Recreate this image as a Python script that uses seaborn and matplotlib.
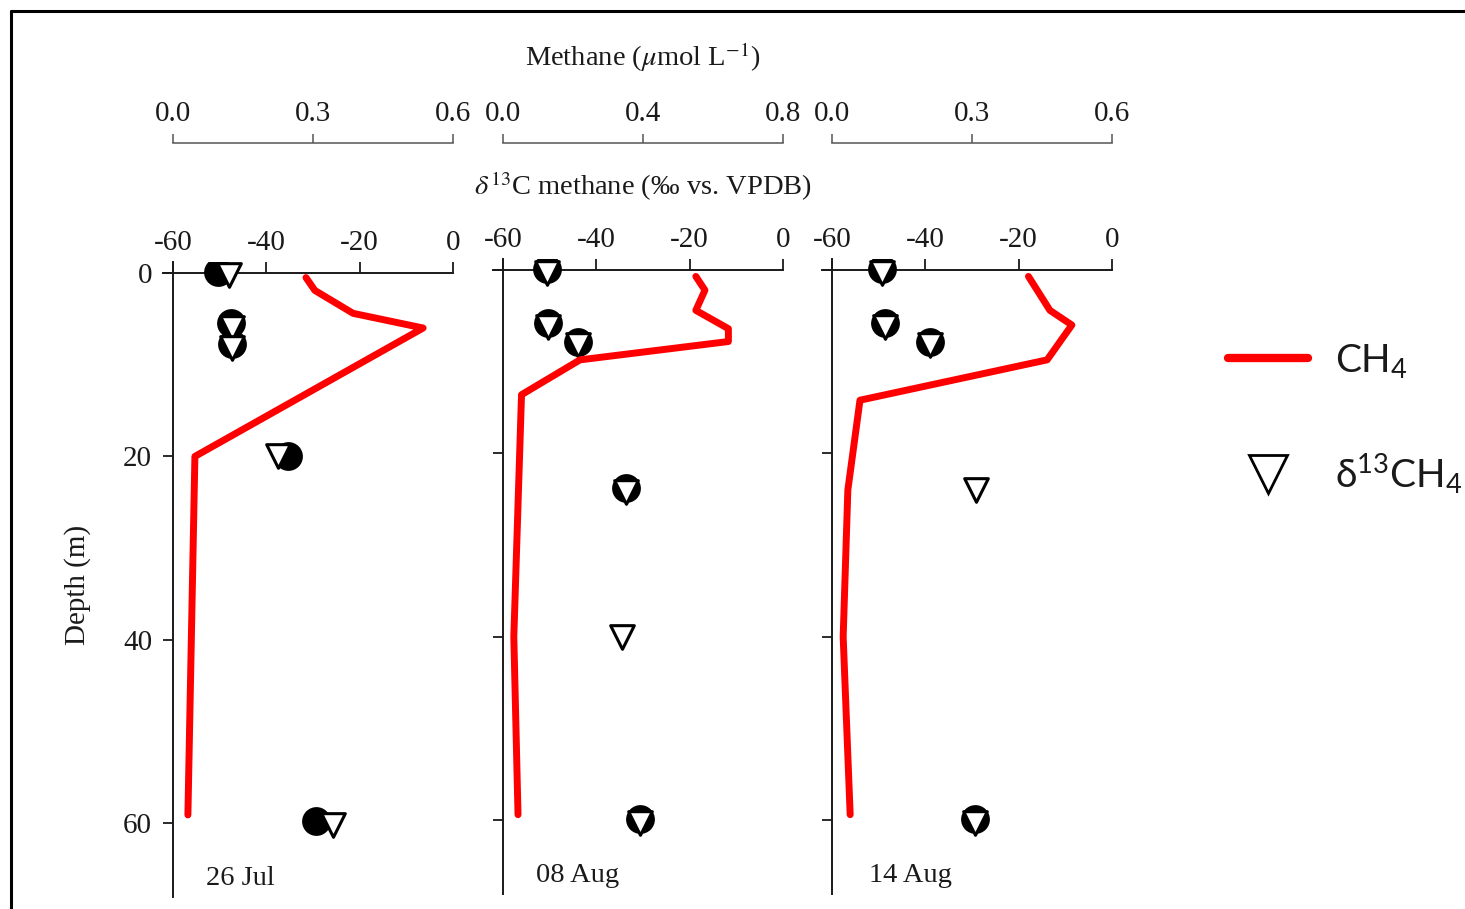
import matplotlib
matplotlib.use("Agg")
import matplotlib.pyplot as plt
from matplotlib.lines import Line2D
import seaborn as sns

# ---- data -------------------------------------------------------------
dates = ["26 Jul", "08 Aug", "14 Aug"]

d13c_ticks = [-60, -40, -20, 0]
d13c_ticklabels = ["-60", "-40", "-20", "0"]
depth_ticks = [0, 20, 40, 60]
depth_ticklabels = ["0", "20", "40", "60"]

methane_max = [0.6, 0.8, 0.6]
methane_ticks = [[0.0, 0.3, 0.6], [0.0, 0.4, 0.8], [0.0, 0.3, 0.6]]
methane_ticklabels = [["0.0", "0.3", "0.6"], ["0.0", "0.4", "0.8"], ["0.0", "0.3", "0.6"]]

# CH4 concentration profiles (umol/L) against depth (m)
ch4_depth_jul26 = [0.5, 1.9, 4.4, 6.0, 20.0, 59.1]
ch4_conc_jul26 = [0.285, 0.304, 0.386, 0.536, 0.047, 0.032]
ch4_depth_aug08 = [0.7, 2.2, 4.4, 6.4, 7.8, 9.8, 13.6, 40.0, 59.4]
ch4_conc_aug08 = [0.551, 0.577, 0.551, 0.644, 0.644, 0.220, 0.053, 0.031, 0.043]
ch4_depth_aug14 = [0.7, 4.4, 6.0, 9.8, 14.2, 24.0, 40.0, 59.4]
ch4_conc_aug14 = [0.421, 0.467, 0.514, 0.461, 0.060, 0.034, 0.024, 0.039]

# delta13C of methane (permil vs. VPDB), open triangles
tri_depth_jul26 = [0.2, 6.0, 8.2, 20.0, 60.2]
tri_d13c_jul26 = [-48.1, -47.4, -47.4, -37.4, -25.7]
tri_depth_aug08 = [0.3, 6.2, 8.2, 24.2, 40.0, 60.3]
tri_d13c_aug08 = [-50.6, -50.3, -43.9, -33.6, -34.5, -30.6]
tri_depth_aug14 = [0.3, 6.2, 8.2, 24.0, 60.3]
tri_d13c_aug14 = [-49.3, -48.6, -39.0, -29.1, -29.4]

# duplicate delta13C measurements, filled circles
dot_depth_jul26 = [-0.1, 5.4, 7.7, 20.0, 59.8]
dot_d13c_jul26 = [-50.4, -47.6, -47.4, -35.3, -29.4]
dot_depth_aug08 = [-0.1, 5.8, 7.8, 23.8, 59.9]
dot_d13c_aug08 = [-50.6, -50.3, -43.9, -33.6, -30.6]
dot_depth_aug14 = [-0.1, 5.8, 7.8, 59.9]
dot_d13c_aug14 = [-49.3, -48.6, -39.0, -29.4]

ch4_depths = [ch4_depth_jul26, ch4_depth_aug08, ch4_depth_aug14]
ch4_concs = [ch4_conc_jul26, ch4_conc_aug08, ch4_conc_aug14]
tri_depths = [tri_depth_jul26, tri_depth_aug08, tri_depth_aug14]
tri_vals = [tri_d13c_jul26, tri_d13c_aug08, tri_d13c_aug14]
dot_depths = [dot_depth_jul26, dot_depth_aug08, dot_depth_aug14]
dot_vals = [dot_d13c_jul26, dot_d13c_aug08, dot_d13c_aug14]

# ---- style ------------------------------------------------------------
sns.set_theme(style="ticks")
plt.rcParams.update({
    "font.family": ["Liberation Serif", "DejaVu Serif"],
    "mathtext.fontset": "stix",
    "axes.unicode_minus": False,
    "axes.edgecolor": "#1a1a1a",
    "xtick.color": "#1a1a1a",
    "ytick.color": "#1a1a1a",
    "text.color": "#1a1a1a",
})

W, H = 1465, 909
fig = plt.figure(figsize=(W / 100, H / 100), dpi=100)

X_LO, Y_TOP, Y_BOT = -62.2, -1.2, 68.0
PX_PER_M = 9.17
panel_w = 290.3
panel_h = (Y_BOT - Y_TOP) * PX_PER_M
# left edge (px) and depth-zero row (px) of each panel
panel_left = [162.7, 492.7, 821.7]
panel_zero = [273, 270, 270]
methane_row = 143
fs_tick = 21
fs_text = 20.5

for i in range(3):
    top_px = panel_zero[i] + Y_TOP * PX_PER_M
    rect = [panel_left[i] / W, 1 - (top_px + panel_h) / H, panel_w / W, panel_h / H]
    ax = fig.add_axes(rect)
    ax.set_facecolor("none")

    sns.scatterplot(x=dot_vals[i], y=dot_depths[i], ax=ax, marker="o", s=430,
                    color="black", edgecolor="black", linewidth=0, zorder=3)
    sns.scatterplot(x=tri_vals[i], y=tri_depths[i], ax=ax, marker="v", s=290,
                    color="white", edgecolor="black", linewidth=2.2, zorder=4)

    ax2 = ax.twiny()
    sns.lineplot(x=ch4_concs[i], y=ch4_depths[i], ax=ax2, sort=False,
                 estimator=None, color="#ff0000", linewidth=5, zorder=5)

    # delta13C / depth axes
    ax.set_xlim(X_LO, 0)
    ax.set_ylim(Y_BOT, Y_TOP)
    ax.xaxis.tick_top()
    for s in ("right", "bottom"):
        ax.spines[s].set_visible(False)
    ax.spines["top"].set_position(("data", 0))
    ax.spines["left"].set_position(("data", -60))
    for s in ("top", "left"):
        ax.spines[s].set_linewidth(1.4)
    ax.set_xticks(d13c_ticks)
    ax.set_xticklabels(d13c_ticklabels)
    ax.set_yticks(depth_ticks)
    ax.set_yticklabels(depth_ticklabels if i == 0 else [])
    ax.tick_params(axis="x", direction="out", length=8, width=1.3, pad=4, labelsize=fs_tick)
    ax.tick_params(axis="y", direction="out", length=7, width=1.3, pad=8, labelsize=fs_tick)
    ax.set_xlabel("")
    ax.set_ylabel("")
    ax.text(-53 if i < 2 else -52, 66.0, dates[i], fontsize=fs_text, ha="left", va="center")

    # methane concentration scale above each panel
    mmax = methane_max[i]
    ax2.set_xlim((X_LO + 60) / 60 * mmax, mmax)
    for s in ("left", "right", "bottom"):
        ax2.spines[s].set_visible(False)
    ax2.spines["top"].set_position(("outward", (top_px - methane_row) * 0.72))
    ax2.spines["top"].set_bounds(0, mmax)
    ax2.spines["top"].set_linewidth(1.1)
    ax2.spines["top"].set_color("#555555")
    ax2.set_xticks(methane_ticks[i])
    ax2.set_xticklabels(methane_ticklabels[i])
    ax2.tick_params(axis="x", direction="out", length=6.5, width=1.1, pad=5,
                    labelsize=fs_tick, color="#555555")
    ax2.set_xlabel("")
    ax2.set_ylabel("")

fig.text(643 / W, 1 - 57 / H, r"Methane ($\mu$mol L$^{-1}$)", ha="center", va="center", fontsize=fs_text)
fig.text(643 / W, 1 - 186 / H, r"$\delta^{13}$C methane (‰ vs. VPDB)", ha="center", va="center", fontsize=fs_text)
fig.text(78 / W, 1 - 585 / H, "Depth (m)", rotation=90, ha="center", va="center", fontsize=fs_text + 0.5)

# legend
handles = [
    Line2D([], [], color="#ff0000", linewidth=6),
    Line2D([], [], marker="v", linestyle="none", markerfacecolor="white",
           markeredgecolor="black", markeredgewidth=2, markersize=27),
]
labels = [r"$\mathregular{CH_4}$", r"$\mathregular{δ^{13}CH_4}$"]
fig.legend(handles, labels, loc="upper left", bbox_to_anchor=(1228 / W, 1 - 342 / H),
           frameon=False, borderpad=0, borderaxespad=0, handlelength=2.05,
           handletextpad=0.7, labelspacing=1.85, prop={"family": "Lato", "size": 28})

# outer frame (left and top edges)
fig.add_artist(Line2D([10.7 / W, 10.7 / W], [0, 1 - 11.3 / H], color="black",
                      linewidth=2.2, transform=fig.transFigure))
fig.add_artist(Line2D([10.7 / W, 1], [1 - 11.3 / H, 1 - 11.3 / H], color="black",
                      linewidth=2.2, transform=fig.transFigure))

fig.savefig("out.png", dpi=100)
